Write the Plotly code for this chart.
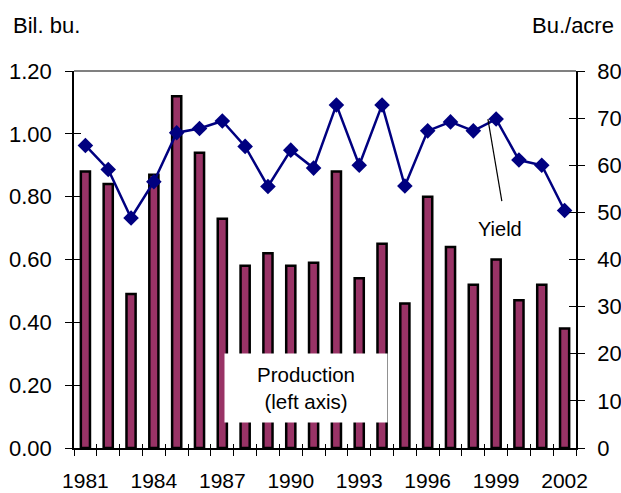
import plotly.graph_objects as go

years = list(range(1981, 2003))
production = [0.88, 0.84, 0.49, 0.87, 1.12, 0.94, 0.73, 0.58, 0.62, 0.58, 0.59,
              0.88, 0.54, 0.65, 0.46, 0.80, 0.64, 0.52, 0.60, 0.47, 0.52, 0.38]
yield_bu = [64.2, 59.1, 48.8, 56.5, 66.9, 67.8, 69.4, 64.0, 55.5, 63.2, 59.4,
            72.8, 60.0, 72.8, 55.6, 67.3, 69.2, 67.3, 69.8, 61.1, 60.0, 50.4]
label_years = years[::3]
left_ticks = [0.0, 0.2, 0.4, 0.6, 0.8, 1.0, 1.2]
right_ticks = [0, 10, 20, 30, 40, 50, 60, 70, 80]

font = "Liberation Sans, Arial, sans-serif"

fig = go.Figure()
fig.add_trace(go.Bar(x=years, y=production, width=0.40,
                     marker=dict(color="#993366", line=dict(color="black", width=2.5)),
                     name="Production"))
fig.add_trace(go.Scatter(x=years, y=yield_bu, yaxis="y2", mode="lines+markers",
                         line=dict(color="#000080", width=2.5),
                         marker=dict(symbol="diamond", size=12, color="#000080"),
                         name="Yield"))
# empty traces so the tick-only overlay axes get drawn
fig.add_trace(go.Scatter(x=[], y=[], xaxis="x2", yaxis="y3", hoverinfo="skip"))
fig.add_trace(go.Scatter(x=[], y=[], xaxis="x2", yaxis="y4", hoverinfo="skip"))

# boundaries between years for the small x ticks
bounds = [y - 0.5 for y in years] + [years[-1] + 0.5]

tick_style = dict(tickcolor="black", tickwidth=1.2, showgrid=False, zeroline=False,
                  automargin=False)

fig.update_layout(
    width=621, height=493,
    margin=dict(l=74, r=45, t=71, b=45),
    paper_bgcolor="white", plot_bgcolor="white",
    showlegend=False,
    font=dict(family=font, size=22, color="black"),
    xaxis=dict(range=[1980.5, 2002.5], tickvals=label_years, ticks="",
               showline=True, linecolor="black", linewidth=1.5, automargin=False,
               showgrid=False, zeroline=False, ticklabelstandoff=13,
               tickfont=dict(size=21),
               minor=dict(tickvals=bounds, ticks="outside", ticklen=6,
                          tickcolor="black", tickwidth=1.2, showgrid=False)),
    yaxis=dict(range=[0, 1.2], tickvals=left_ticks, tickformat=".2f",
               ticks="outside", ticklen=7, showline=True, linecolor="black",
               linewidth=1.5, ticklabelstandoff=9, **tick_style),
    yaxis2=dict(range=[0, 80], tickvals=right_ticks, overlaying="y", side="right",
                ticks="outside", ticklen=7, showline=True, linecolor="black",
                linewidth=1.5, ticklabelstandoff=8, **tick_style),
    # inner halves of the ticks that cross the axis lines
    xaxis2=dict(overlaying="x", anchor="y3", side="bottom", range=[1980.5, 2002.5],
                tickvals=bounds, ticks="inside", ticklen=4, showticklabels=False,
                showline=False, **tick_style),
    yaxis3=dict(overlaying="y", anchor="x2", side="left", range=[0, 1.2],
                tickvals=left_ticks, ticks="inside", ticklen=7, showticklabels=False,
                showline=False, **tick_style),
    yaxis4=dict(overlaying="y", anchor="x2", side="right", range=[0, 80],
                tickvals=right_ticks, ticks="inside", ticklen=7, showticklabels=False,
                showline=False, **tick_style),
    bargap=0.56,
)

# gray top border of the plot area
fig.add_shape(type="line", xref="paper", yref="paper", x0=0, x1=1, y0=1, y1=1,
              line=dict(color="#808080", width=2))

# leader line for the Yield label
fig.add_shape(type="line", xref="x", yref="y2", x0=1998.64, y0=69.8, x1=1999.25, y1=52.4,
              line=dict(color="black", width=1.2))

fig.add_annotation(x=1999.17, y=46.4, xref="x", yref="y2", text="Yield", showarrow=False,
                   font=dict(size=20))
fig.add_annotation(x=1990.67, y=0.19, xref="x", yref="y", text="Production<br>(left axis)",
                   showarrow=False, bgcolor="white", width=160, height=66,
                   font=dict(size=20.5))

fig.add_annotation(x=11, y=25, xref="paper", yref="paper", text="Bil. bu.", showarrow=False,
                   xanchor="left", yanchor="middle", font=dict(size=22))
fig.add_annotation(x=616, y=25, xref="paper", yref="paper", text="Bu./acre", showarrow=False,
                   xanchor="right", yanchor="middle", font=dict(size=22))

# convert pixel positions of the axis-title labels to paper coordinates
pw, ph = 621 - 74 - 45, 493 - 71 - 45
for ann in fig.layout.annotations[-2:]:
    ann.x = (ann.x - 74) / pw
    ann.y = (493 - 45 - ann.y) / ph

# no page margin so the figure sits at the window origin
fig.write_html("out.html", config={"displayModeBar": False},
               post_script="document.body.style.margin='0';")
